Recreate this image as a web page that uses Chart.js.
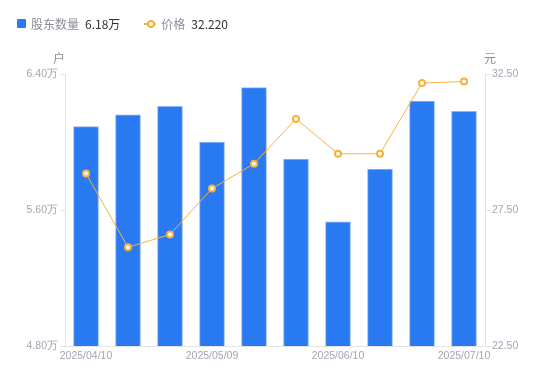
<!DOCTYPE html>
<html>
<head>
<meta charset="utf-8">
<script src="https://cdn.jsdelivr.net/npm/chart.js@4/dist/chart.umd.min.js"></script>
<style>
  body { margin: 0; background: #fff; font-family: "Noto Sans CJK SC", "Noto Sans", sans-serif; }
  #wrap { position: relative; width: 550px; height: 381px; }
  #legend { position: absolute; left: 17px; top: 15px; font-size: 12px; color: #8a8d99; display: flex; align-items: center; }
  .item { display: flex; align-items: center; margin-right: 24px; }
  .sq { width: 9px; height: 9px; background: #2979f2; border-radius: 1px; margin-right: 5px; }
  .ln { position: relative; width: 12px; height: 9px; margin-right: 5px; }
  .ln:before { content: ""; position: absolute; left: 0; right: 0; top: 4px; height: 1.5px; background: #f7b23b; }
  .ln:after { content: ""; position: absolute; left: 2.5px; top: 1px; width: 4px; height: 4px; border: 2px solid #f7b23b; border-radius: 50%; background: #fff; }
  .val { color: #333; margin-left: 6px; }
</style>
</head>
<body>
<div id="wrap">
  <div id="legend">
    <div class="item"><span class="sq"></span>股东数量<span class="val">6.18万</span></div>
    <div class="item"><span class="ln"></span>价格<span class="val">32.220</span></div>
  </div>
  <canvas id="chart" width="550" height="381"></canvas>
</div>
<script>
const dates = ['2025/04/10', '2025/04/18', '2025/04/30', '2025/05/09', '2025/05/20',
               '2025/05/30', '2025/06/10', '2025/06/20', '2025/06/30', '2025/07/10'];
const holders = [6.09, 6.16, 6.21, 6.00, 6.32, 5.90, 5.53, 5.84, 6.24, 6.18];   // 万户
const prices = [28.84, 26.13, 26.60, 28.29, 29.20, 30.85, 29.57, 29.57, 32.17, 32.22];

const tickColor = '#a3a6b1';
const axisColor = '#e3e3e3';

const axisTitles = {
  id: 'axisTitles',
  afterDraw(chart) {
    const ctx = chart.ctx;
    const a = chart.chartArea;
    ctx.save();
    ctx.font = '12px "Noto Sans CJK SC", sans-serif';
    ctx.fillStyle = '#8a8d99';
    ctx.textBaseline = 'middle';
    ctx.textAlign = 'center';
    ctx.fillText('户', a.left - 6, a.top - 16);
    ctx.fillText('元', a.right + 5, a.top - 16);
    ctx.restore();
  }
};

new Chart(document.getElementById('chart'), {
  data: {
    labels: dates,
    datasets: [
      {
        type: 'line',
        label: '价格',
        data: prices,
        yAxisID: 'y1',
        borderColor: '#f7b23b',
        borderWidth: 1,
        pointRadius: 3,
        pointBorderWidth: 2,
        pointBackgroundColor: '#fff',
        pointBorderColor: '#f7b23b',
        tension: 0,
        order: 0
      },
      {
        type: 'bar',
        label: '股东数量',
        data: holders,
        yAxisID: 'y',
        backgroundColor: '#2979f2',
        borderColor: '#8fb8f8',
        borderWidth: 1,
        barThickness: 25,
        order: 1
      }
    ]
  },
  options: {
    responsive: false,
    animation: false,
    layout: { padding: { top: 74, left: 0, right: 0, bottom: 0 } },
    plugins: { legend: { display: false }, tooltip: { enabled: false } },
    scales: {
      x: {
        offset: true,
        grid: { display: false, drawTicks: false },
        border: { color: axisColor },
        ticks: {
          autoSkip: false,
          maxRotation: 0,
          color: tickColor,
          font: { size: 10.5 },
          padding: 4,
          callback: function (v, i) { return i % 3 === 0 ? dates[i] : ''; }
        },
        afterFit: s => { s.height = 35; }
      },
      y: {
        position: 'left',
        min: 4.8,
        max: 6.4,
        grid: { drawOnChartArea: false, color: axisColor, tickLength: 5 },
        border: { color: axisColor },
        ticks: {
          stepSize: 0.8,
          color: tickColor,
          font: { size: 10.5 },
          padding: 2,
          callback: v => v.toFixed(2) + '万'
        },
        afterFit: s => { s.width = 65; }
      },
      y1: {
        position: 'right',
        min: 22.5,
        max: 32.5,
        grid: { drawOnChartArea: false, color: axisColor, tickLength: 5 },
        border: { color: axisColor },
        ticks: {
          stepSize: 5,
          color: tickColor,
          font: { size: 10.5 },
          padding: 2,
          callback: v => v.toFixed(2)
        },
        afterFit: s => { s.width = 65; }
      }
    }
  },
  plugins: [axisTitles]
});
</script>
</body>
</html>
